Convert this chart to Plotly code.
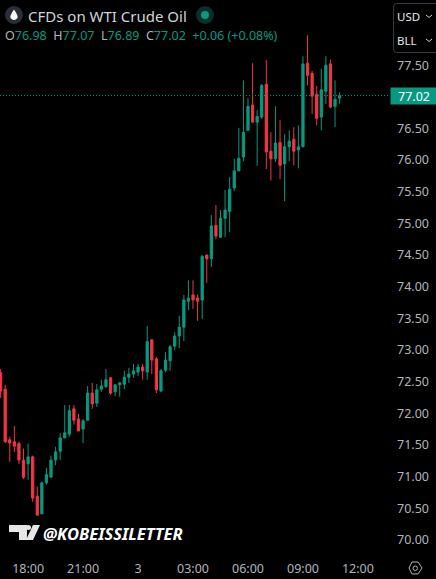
import pandas as pd
import plotly.graph_objects as go

# 15 minute bars, first bar at 16:30 on the 2nd
times = pd.date_range("2026-03-02 16:30", periods=75, freq="15min")

opens = [72.64, 72.38, 71.58, 71.55, 71.52, 71.26, 71.20, 71.31, 70.69, 70.41,
         70.90, 70.99, 71.26, 71.40, 71.61, 71.67, 72.07, 71.91, 71.75, 71.89,
         72.32, 72.16, 72.38, 72.42, 72.56, 72.34, 72.45, 72.46, 72.57, 72.62,
         72.65, 72.73, 72.65, 73.16, 72.86, 72.35, 72.68, 72.83, 73.06, 73.22,
         73.36, 73.77, 73.87, 73.82, 73.79, 74.50, 74.44, 74.97, 74.78, 75.08,
         75.19, 75.56, 75.83, 76.05, 76.47, 76.87, 76.60, 76.68, 77.20, 76.14,
         76.02, 76.28, 75.94, 76.21, 76.33, 76.16, 76.21, 77.53, 77.37, 77.04,
         76.68, 77.09, 77.52, 76.85, 76.98]
highs = [72.70, 72.45, 71.63, 71.80, 71.55, 71.44, 71.52, 71.33, 70.84, 70.92,
         71.14, 71.33, 71.47, 71.69, 72.13, 72.13, 72.13, 71.99, 71.91, 72.43,
         72.48, 72.46, 72.53, 72.70, 72.56, 72.45, 72.49, 72.67, 72.72, 72.78,
         72.78, 72.78, 73.38, 73.17, 72.89, 72.70, 72.97, 73.08, 73.28, 73.54,
         73.87, 74.10, 74.10, 73.88, 74.50, 74.50, 75.13, 75.29, 75.21, 75.53,
         75.73, 76.02, 76.51, 77.26, 76.98, 77.53, 76.79, 77.20, 77.58, 76.44,
         76.85, 76.63, 76.41, 76.47, 76.52, 76.55, 77.64, 77.97, 77.41, 77.17,
         77.44, 77.64, 77.59, 77.26, 77.07]
lows = [72.24, 71.53, 71.23, 71.39, 71.20, 70.96, 70.95, 70.60, 70.39, 70.41,
        70.87, 70.99, 71.18, 71.26, 71.61, 71.63, 71.82, 71.72, 71.53, 71.89,
        72.07, 72.10, 72.34, 72.40, 72.29, 72.27, 72.26, 72.38, 72.48, 72.56,
        72.59, 72.53, 72.53, 72.62, 72.32, 72.34, 72.65, 72.67, 73.00, 73.03,
        73.14, 73.63, 73.65, 73.46, 73.49, 74.06, 74.31, 74.75, 74.78, 74.78,
        74.86, 75.51, 75.83, 75.98, 76.47, 76.60, 75.91, 76.65, 75.86, 75.68,
        75.97, 75.70, 75.35, 75.98, 75.92, 75.87, 76.21, 77.18, 76.73, 76.55,
        76.47, 76.89, 76.82, 76.52, 76.89]
closes = [72.35, 71.55, 71.53, 71.48, 71.26, 70.99, 71.31, 70.66, 70.39, 70.90,
          71.03, 71.26, 71.39, 71.61, 71.69, 72.04, 71.89, 71.72, 71.88, 72.32,
          72.15, 72.37, 72.43, 72.53, 72.32, 72.45, 72.48, 72.57, 72.62, 72.67,
          72.73, 72.67, 73.13, 72.84, 72.37, 72.67, 72.84, 73.05, 73.22, 73.36,
          73.79, 73.82, 73.79, 73.77, 74.48, 74.44, 74.96, 74.80, 75.08, 75.21,
          75.54, 75.83, 76.03, 76.44, 76.85, 76.60, 76.69, 77.18, 76.13, 76.02,
          76.27, 75.92, 76.21, 76.30, 76.14, 76.21, 77.52, 77.34, 77.01, 76.66,
          77.11, 77.50, 76.84, 76.96, 77.02]

price_ticks = [70.0, 70.5, 71.0, 71.5, 72.0, 72.5, 73.0, 73.5, 74.0, 74.5,
               75.0, 75.5, 76.0, 76.5, 77.5]
time_ticks = ["2026-03-02 18:00", "2026-03-02 21:00", "2026-03-03 00:00", "2026-03-03 03:00",
              "2026-03-03 06:00", "2026-03-03 09:00", "2026-03-03 12:00"]
time_labels = ["18:00", "21:00", "3", "03:00", "06:00", "09:00", "12:00"]
last_price = 77.02

UP = "#089981"
DOWN = "#f23645"
GREY = "#b2b5be"
FONT = "Noto Sans"

# size of the pane in pixels, the axes take up the rest
PANE_W = 390
PANE_H = 555


def px(x):
    return x / PANE_W


def py(y):
    return 1 - y / PANE_H


def page_path(points):
    return "M" + " L".join(f"{px(x):.4f},{py(y):.4f}" for x, y in points) + " Z"


fig = go.Figure()

fig.add_trace(
    go.Candlestick(
        x=times,
        open=opens,
        high=highs,
        low=lows,
        close=closes,
        increasing=dict(line=dict(color=UP, width=1), fillcolor=UP),
        decreasing=dict(line=dict(color=DOWN, width=1), fillcolor=DOWN),
        whiskerwidth=0,
        showlegend=False,
        hoverinfo="skip",
    )
)

fig.add_hline(y=last_price, line=dict(color=UP, width=1, dash="1px,2px"))

# header
gap = "\u00a0"
ohlc = (
    f'<span style="color:{GREY}">O</span>76.98{gap}{gap}'
    f'<span style="color:{GREY}">H</span>77.07{gap}{gap}'
    f'<span style="color:{GREY}">L</span>76.89{gap}{gap}'
    f'<span style="color:{GREY}">C</span>77.02{gap}{gap}'
    f"+0.06{gap}(+0.08%)"
)
fig.add_annotation(x=px(26), y=py(15.5), text="CFDs on WTI Crude Oil", font=dict(size=15, color="#d1d4dc"))
fig.add_annotation(x=px(3), y=py(35.5), text=ohlc, font=dict(size=12.5, color=UP))

# watermark
fig.add_annotation(
    x=px(41), y=py(533), text="<b><i>@KOBEISSILETTER</i></b>",
    font=dict(size=16.5, color="#ffffff"),
)

# currency and unit selector
fig.add_annotation(x=px(395), y=py(16), text="USD", font=dict(size=11.5, color="#e8e8e8"))
fig.add_annotation(x=px(395), y=py(40), text="BLL", font=dict(size=11.5, color="#e8e8e8"))

# last price label
fig.add_annotation(
    x=px(390), y=py(95.5), text="77.02", width=46, height=16, align="center",
    font=dict(size=12.5, color="#ffffff", family="Noto Sans"),
    bgcolor=UP, borderpad=0,
)
fig.update_annotations(xref="paper", yref="paper", xanchor="left", yanchor="middle", showarrow=False)

paper = dict(xref="paper", yref="paper", layer="above")
shapes = [
    # droplet badge
    dict(type="circle", x0=px(5), x1=px(23), y0=py(6), y1=py(24), fillcolor="#2a2e39",
         line_width=0, **paper),
    dict(type="path", fillcolor="#ffffff", line_width=0, **paper,
         path=f"M{px(14):.4f},{py(9.5):.4f} Q{px(18.5):.4f},{py(16):.4f} {px(17.5):.4f},{py(18):.4f} "
              f"Q{px(14):.4f},{py(22):.4f} {px(10.5):.4f},{py(18):.4f} "
              f"Q{px(9.5):.4f},{py(16):.4f} {px(14):.4f},{py(9.5):.4f} Z"),
    # market status dot
    dict(type="circle", x0=px(196), x1=px(214), y0=py(6), y1=py(24), fillcolor="#0b2e28",
         line_width=0, **paper),
    dict(type="circle", x0=px(201), x1=px(209), y0=py(11), y1=py(19), fillcolor=UP,
         line_width=0, **paper),
    # selector box
    dict(type="path", fillcolor="rgba(0,0,0,0)", line=dict(color="#363a45", width=1), **paper,
         path=f"M{px(440):.4f},{py(3.5):.4f} L{px(397):.4f},{py(3.5):.4f} "
              f"Q{px(393.5):.4f},{py(3.5):.4f} {px(393.5):.4f},{py(7):.4f} "
              f"L{px(393.5):.4f},{py(49):.4f} Q{px(393.5):.4f},{py(52.5):.4f} {px(397):.4f},{py(52.5):.4f} "
              f"L{px(440):.4f},{py(52.5):.4f}"),
    # chevrons
    dict(type="path", line=dict(color="#d1d4dc", width=1), **paper,
         path=f"M{px(426):.4f},{py(15):.4f} L{px(429):.4f},{py(17.5):.4f} L{px(432):.4f},{py(15):.4f}"),
    dict(type="path", line=dict(color="#d1d4dc", width=1), **paper,
         path=f"M{px(426):.4f},{py(39):.4f} L{px(429):.4f},{py(41.5):.4f} L{px(432):.4f},{py(39):.4f}"),
    # TV logo
    dict(type="path", fillcolor="#e6e6e6", line_width=0, **paper,
         path=page_path([(9, 525), (27, 525), (27, 540), (19, 540), (19, 532), (9, 532)])),
    dict(type="circle", x0=px(26), x1=px(31), y0=py(525), y1=py(530), fillcolor="#e6e6e6",
         line_width=0, **paper),
    dict(type="path", fillcolor="#e6e6e6", line_width=0, **paper,
         path=page_path([(33, 525), (40, 525), (33, 540), (26, 540)])),
    # settings hexagon
    dict(type="path", fillcolor="rgba(0,0,0,0)", line=dict(color=GREY, width=1), **paper,
         path=page_path([(409, 568), (412, 562), (418, 562), (422, 568), (418, 574), (412, 574)])),
    dict(type="circle", x0=px(413), x1=px(417.5), y0=py(566), y1=py(570.5),
         fillcolor="rgba(0,0,0,0)", line=dict(color=GREY, width=1), **paper),
]

fig.update_layout(
    width=436,
    height=579,
    margin=dict(l=0, r=46, t=0, b=24, pad=0),
    paper_bgcolor="#000000",
    plot_bgcolor="#000000",
    font=dict(family=FONT, color=GREY, size=12.5),
    shapes=list(fig.layout.shapes) + shapes,
    showlegend=False,
)
fig.update_xaxes(
    type="date",
    range=["2026-03-02 16:28", "2026-03-03 13:45"],
    rangeslider_visible=False,
    tickvals=time_ticks,
    ticktext=time_labels,
    showgrid=False,
    zeroline=False,
    showline=False,
    ticks="",
    tickangle=0,
    ticklabelstandoff=4,
)
fig.update_yaxes(
    range=[69.76, 78.53],
    side="right",
    tickvals=price_ticks,
    tickformat=".2f",
    showgrid=False,
    zeroline=False,
    showline=False,
    ticks="",
    ticklabelstandoff=6,
)

fig.write_html("out.html", config={"displayModeBar": False},
               post_script="document.body.style.margin='0';document.body.style.overflow='hidden';")
